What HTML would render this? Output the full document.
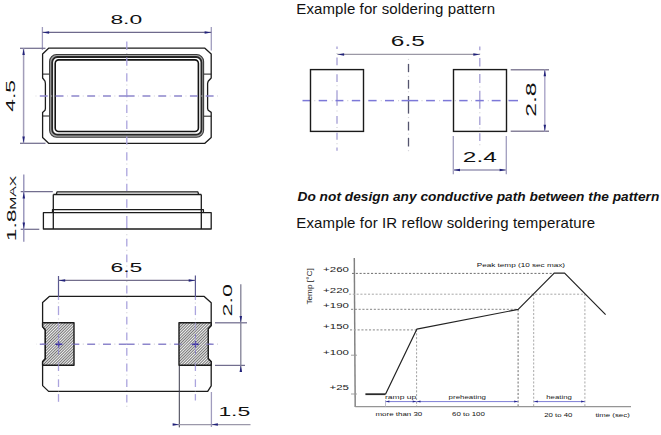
<!DOCTYPE html>
<html><head><meta charset="utf-8"><style>
html,body{margin:0;padding:0;background:#fff;}
body{width:661px;height:435px;overflow:hidden;}
svg{display:block;font-family:"Liberation Sans",sans-serif;}
</style></head><body>
<svg width="661" height="435" viewBox="0 0 661 435">
<polygon points="48.6,48.2 204.9,48.2 211.2,54.0 211.2,78.0 208.2,81.2 207.6,83.5 207.6,108.5 208.2,110.3 211.2,112.4 211.2,137.5 204.9,143.3 48.6,143.3 42.6,137.5 42.6,112.4 45.0,110.3 45.4,108.5 45.4,83.5 45.0,81.2 42.6,78.0 42.6,54.0" fill="none" stroke="#1c1c1c" stroke-width="1.3" stroke-linejoin="round"/>
<line x1="42.6" y1="74.1" x2="49.6" y2="74.1" stroke="#1c1c1c" stroke-width="1" />
<line x1="42.6" y1="116.0" x2="49.6" y2="116.0" stroke="#1c1c1c" stroke-width="1" />
<line x1="203.6" y1="74.1" x2="211.2" y2="74.1" stroke="#1c1c1c" stroke-width="1" />
<line x1="203.6" y1="116.2" x2="211.2" y2="116.2" stroke="#1c1c1c" stroke-width="1" />
<rect x="49.6" y="54.5" width="154" height="82.7" rx="7" fill="#a4a4a4" stroke="#3a3a3a" stroke-width="1.1"/>
<rect x="52.2" y="57.0" width="149.2" height="77.7" rx="5.2" fill="#fff" stroke="#262626" stroke-width="1.8"/>
<rect x="55.2" y="59.9" width="143.2" height="71.6" rx="3.5" fill="none" stroke="#141414" stroke-width="1.6"/>
<line x1="126.8" y1="41.6" x2="126.8" y2="191" stroke="#aba4de" stroke-width="1.3" stroke-dasharray="8.3 7.5" stroke-dashoffset="0"/>
<line x1="126.8" y1="41.6" x2="126.8" y2="191" stroke="#cfcfd6" stroke-width="1.2" stroke-dasharray="0 11.3 1 3.5" stroke-dashoffset="0"/>
<line x1="126.8" y1="191" x2="126.8" y2="229" stroke="#aba4de" stroke-width="1.3" stroke-dasharray="0 8.2 8.6 8.1 20" stroke-dashoffset="0"/>
<line x1="126.8" y1="234.2" x2="126.8" y2="404" stroke="#aba4de" stroke-width="1.3" stroke-dasharray="0 4.6 7.8 3.2" stroke-dashoffset="0"/>
<line x1="126.8" y1="234.2" x2="126.8" y2="407" stroke="#cfcfd6" stroke-width="1.2" stroke-dasharray="1 14.6" stroke-dashoffset="0"/>
<line x1="126.7" y1="96" x2="35.6" y2="96" stroke="#8d86cc" stroke-width="1.6" stroke-dasharray="7.9 7.9" stroke-dashoffset="0"/>
<line x1="126.7" y1="96" x2="35.6" y2="96" stroke="#cfcfd6" stroke-width="1.2" stroke-dasharray="0 11.350000000000001 1 3.45" stroke-dashoffset="0"/>
<line x1="126.7" y1="96" x2="219" y2="96" stroke="#8d86cc" stroke-width="1.6" stroke-dasharray="7.9 7.9" stroke-dashoffset="0"/>
<line x1="126.7" y1="96" x2="219" y2="96" stroke="#cfcfd6" stroke-width="1.2" stroke-dasharray="0 11.350000000000001 1 3.45" stroke-dashoffset="0"/>
<line x1="42.4" y1="27" x2="42.4" y2="50" stroke="#a09cbe" stroke-width="1.3" />
<line x1="211.3" y1="27" x2="211.3" y2="50.6" stroke="#a09cbe" stroke-width="1.3" />
<line x1="42.4" y1="32.4" x2="211.3" y2="32.4" stroke="#6e698c" stroke-width="1.2" />
<polygon points="42.6,32.4 49.1,31.15 49.1,33.65" fill="#22227a"/>
<polygon points="211.1,32.4 204.6,31.15 204.6,33.65" fill="#22227a"/>
<text transform="translate(110.4,23.8) scale(1.72,1)" font-size="13.3" fill="#111" text-anchor="start">8.0</text>
<line x1="20" y1="48.3" x2="45.5" y2="48.3" stroke="#726e8e" stroke-width="1.25" />
<line x1="20" y1="143.3" x2="45.5" y2="143.3" stroke="#726e8e" stroke-width="1.25" />
<line x1="23.6" y1="48.3" x2="23.6" y2="143.3" stroke="#a29db9" stroke-width="1.5" />
<polygon points="23.6,48.5 22.35,55.0 24.85,55.0" fill="#22227a"/>
<polygon points="23.6,143.1 22.35,136.6 24.85,136.6" fill="#22227a"/>
<text transform="translate(15.2,111.8) rotate(-90) scale(1.72,1)" font-size="13.3" fill="#111" text-anchor="start">4.5</text>
<polygon points="43.4,212.7 211.2,212.7 211.2,229.0 43.4,229.0" fill="none" stroke="#1c1c1c" stroke-width="1.3" stroke-linejoin="round"/>
<line x1="53.3" y1="194.5" x2="53.3" y2="229.0" stroke="#1c1c1c" stroke-width="1.3" />
<line x1="201.3" y1="194.5" x2="201.3" y2="229.0" stroke="#1c1c1c" stroke-width="1.3" />
<polyline points="52.5,212.7 52.5,209.7 203.4,209.7 203.4,212.7" fill="none" stroke="#1c1c1c" stroke-width="1.3" stroke-linejoin="round"/>
<polyline points="53.3,194.5 201.3,194.5" fill="none" stroke="#1c1c1c" stroke-width="1.3" stroke-linejoin="round"/>
<polyline points="56.3,194.5 57,191.8 197.9,191.8 198.6,194.5" fill="none" stroke="#1c1c1c" stroke-width="1.3" stroke-linejoin="round"/>
<line x1="20.7" y1="191.7" x2="52.8" y2="191.7" stroke="#726e8e" stroke-width="1.25" />
<line x1="20.7" y1="229.3" x2="39.3" y2="229.3" stroke="#726e8e" stroke-width="1.25" />
<line x1="23.8" y1="174.5" x2="23.8" y2="241.8" stroke="#8e8ab4" stroke-width="1.3" />
<polygon points="23.8,191.9 22.55,198.4 25.05,198.4" fill="#22227a"/>
<polygon points="23.8,229.1 22.55,222.6 25.05,222.6" fill="#22227a"/>
<text transform="translate(16.0,241.2) rotate(-90) scale(1.72,1)" font-size="13.3" fill="#111" text-anchor="start">1.8</text>
<text transform="translate(16.0,209.8) rotate(-90) scale(1.9,1)" font-size="8.3" fill="#111" text-anchor="start">MAX</text>
<polygon points="49.3,296.4 204.2,296.4 211.2,302.8 211.2,325.6 208.2,328.8 208.2,358.6 211.2,361.8 211.2,385.8 207.7,391.4 48.6,391.4 42.6,385.6 42.6,361.8 45.3,358.7 45.3,330 42.6,326.6 42.6,302.5" fill="none" stroke="#1c1c1c" stroke-width="1.3" stroke-linejoin="round"/>
<line x1="58.5" y1="276" x2="58.5" y2="297" stroke="#5a5890" stroke-width="1.2" />
<line x1="195.4" y1="275.5" x2="195.4" y2="297" stroke="#5a5890" stroke-width="1.2" />
<line x1="58.5" y1="297" x2="58.5" y2="300" stroke="#aba4de" stroke-width="1.3" />
<line x1="58.5" y1="306.1" x2="58.5" y2="315.1" stroke="#aba4de" stroke-width="1.3" />
<line x1="58.5" y1="322.5" x2="58.5" y2="330.5" stroke="#aba4de" stroke-width="1.3" />
<line x1="58.5" y1="337" x2="58.5" y2="351.5" stroke="#aba4de" stroke-width="1.3" />
<line x1="58.5" y1="362.4" x2="58.5" y2="371" stroke="#aba4de" stroke-width="1.3" />
<line x1="58.5" y1="379.3" x2="58.5" y2="387" stroke="#aba4de" stroke-width="1.3" />
<line x1="58.5" y1="394.1" x2="58.5" y2="401.8" stroke="#aba4de" stroke-width="1.3" />
<line x1="58.5" y1="302.4" x2="58.5" y2="303.4" stroke="#cfcfd6" stroke-width="1.2" />
<line x1="58.5" y1="318.5" x2="58.5" y2="319.5" stroke="#cfcfd6" stroke-width="1.2" />
<line x1="58.5" y1="333.5" x2="58.5" y2="334.5" stroke="#cfcfd6" stroke-width="1.2" />
<line x1="58.5" y1="354.5" x2="58.5" y2="355.5" stroke="#cfcfd6" stroke-width="1.2" />
<line x1="58.5" y1="374.9" x2="58.5" y2="375.9" stroke="#cfcfd6" stroke-width="1.2" />
<line x1="58.5" y1="390.3" x2="58.5" y2="391.3" stroke="#cfcfd6" stroke-width="1.2" />
<line x1="195.4" y1="297" x2="195.4" y2="300" stroke="#aba4de" stroke-width="1.3" />
<line x1="195.4" y1="306.1" x2="195.4" y2="315.1" stroke="#aba4de" stroke-width="1.3" />
<line x1="195.4" y1="322.5" x2="195.4" y2="330.5" stroke="#aba4de" stroke-width="1.3" />
<line x1="195.4" y1="337" x2="195.4" y2="351.5" stroke="#aba4de" stroke-width="1.3" />
<line x1="195.4" y1="362.4" x2="195.4" y2="371" stroke="#aba4de" stroke-width="1.3" />
<line x1="195.4" y1="379.3" x2="195.4" y2="387" stroke="#aba4de" stroke-width="1.3" />
<line x1="195.4" y1="394.1" x2="195.4" y2="400.5" stroke="#aba4de" stroke-width="1.3" />
<line x1="195.4" y1="302.4" x2="195.4" y2="303.4" stroke="#cfcfd6" stroke-width="1.2" />
<line x1="195.4" y1="318.5" x2="195.4" y2="319.5" stroke="#cfcfd6" stroke-width="1.2" />
<line x1="195.4" y1="333.5" x2="195.4" y2="334.5" stroke="#cfcfd6" stroke-width="1.2" />
<line x1="195.4" y1="354.5" x2="195.4" y2="355.5" stroke="#cfcfd6" stroke-width="1.2" />
<line x1="195.4" y1="374.9" x2="195.4" y2="375.9" stroke="#cfcfd6" stroke-width="1.2" />
<line x1="195.4" y1="390.3" x2="195.4" y2="391.3" stroke="#cfcfd6" stroke-width="1.2" />
<line x1="126.7" y1="344.2" x2="36" y2="344.2" stroke="#8d86cc" stroke-width="1.6" stroke-dasharray="7.9 7.9" stroke-dashoffset="0"/>
<line x1="126.7" y1="344.2" x2="36" y2="344.2" stroke="#cfcfd6" stroke-width="1.2" stroke-dasharray="0 11.350000000000001 1 3.45" stroke-dashoffset="0"/>
<line x1="126.7" y1="344.2" x2="219" y2="344.2" stroke="#8d86cc" stroke-width="1.6" stroke-dasharray="7.9 7.9" stroke-dashoffset="0"/>
<line x1="126.7" y1="344.2" x2="219" y2="344.2" stroke="#cfcfd6" stroke-width="1.2" stroke-dasharray="0 11.350000000000001 1 3.45" stroke-dashoffset="0"/>
<defs><pattern id="h" patternUnits="userSpaceOnUse" width="2.0" height="2.0" patternTransform="rotate(45)"><rect width="2.0" height="2.0" fill="#f2f2f2"/><line x1="0.5" y1="0" x2="0.5" y2="2.0" stroke="#555" stroke-width="0.8"/></pattern></defs>
<polygon points="42.6,322.7 74.0,322.7 74.0,365.3 42.6,365.3 42.6,361.8 45.3,358.7 45.3,330 42.6,326.6" fill="url(#h)" stroke="#1c1c1c" stroke-width="1.4" stroke-linejoin="round"/>
<polygon points="179.0,322.7 211.2,322.7 211.2,325.6 208.2,328.8 208.2,358.6 211.2,361.8 211.2,365.3 179.0,365.3" fill="url(#h)" stroke="#1c1c1c" stroke-width="1.4" stroke-linejoin="round"/>
<clipPath id="pc"><rect x="42" y="322" width="33" height="44"/><rect x="178.5" y="322" width="33" height="44"/></clipPath>
<g opacity="0.6" clip-path="url(#pc)">
<line x1="58.5" y1="297" x2="58.5" y2="300" stroke="#aba4de" stroke-width="1.3" />
<line x1="58.5" y1="306.1" x2="58.5" y2="315.1" stroke="#aba4de" stroke-width="1.3" />
<line x1="58.5" y1="322.5" x2="58.5" y2="330.5" stroke="#aba4de" stroke-width="1.3" />
<line x1="58.5" y1="337" x2="58.5" y2="351.5" stroke="#aba4de" stroke-width="1.3" />
<line x1="58.5" y1="362.4" x2="58.5" y2="371" stroke="#aba4de" stroke-width="1.3" />
<line x1="58.5" y1="379.3" x2="58.5" y2="387" stroke="#aba4de" stroke-width="1.3" />
<line x1="58.5" y1="394.1" x2="58.5" y2="401.8" stroke="#aba4de" stroke-width="1.3" />
<line x1="195.4" y1="297" x2="195.4" y2="300" stroke="#aba4de" stroke-width="1.3" />
<line x1="195.4" y1="306.1" x2="195.4" y2="315.1" stroke="#aba4de" stroke-width="1.3" />
<line x1="195.4" y1="322.5" x2="195.4" y2="330.5" stroke="#aba4de" stroke-width="1.3" />
<line x1="195.4" y1="337" x2="195.4" y2="351.5" stroke="#aba4de" stroke-width="1.3" />
<line x1="195.4" y1="362.4" x2="195.4" y2="371" stroke="#aba4de" stroke-width="1.3" />
<line x1="195.4" y1="379.3" x2="195.4" y2="387" stroke="#aba4de" stroke-width="1.3" />
<line x1="195.4" y1="394.1" x2="195.4" y2="401.8" stroke="#aba4de" stroke-width="1.3" />
<line x1="126.7" y1="344.2" x2="36" y2="344.2" stroke="#8d86cc" stroke-width="1.6" stroke-dasharray="7.9 7.9" stroke-dashoffset="0"/>
<line x1="126.7" y1="344.2" x2="36" y2="344.2" stroke="#cfcfd6" stroke-width="1.2" stroke-dasharray="0 11.350000000000001 1 3.45" stroke-dashoffset="0"/>
<line x1="126.7" y1="344.2" x2="219" y2="344.2" stroke="#8d86cc" stroke-width="1.6" stroke-dasharray="7.9 7.9" stroke-dashoffset="0"/>
<line x1="126.7" y1="344.2" x2="219" y2="344.2" stroke="#cfcfd6" stroke-width="1.2" stroke-dasharray="0 11.350000000000001 1 3.45" stroke-dashoffset="0"/>
</g>
<line x1="55.4" y1="344.3" x2="61.800000000000004" y2="344.3" stroke="#3a30a0" stroke-width="1.5" />
<line x1="58.6" y1="341" x2="58.6" y2="347.6" stroke="#5a50b0" stroke-width="1.3" />
<line x1="58.6" y1="334" x2="58.6" y2="338" stroke="#8a84c0" stroke-width="1.0" />
<line x1="58.6" y1="350.5" x2="58.6" y2="354.5" stroke="#8a84c0" stroke-width="1.0" />
<line x1="192.3" y1="344.3" x2="198.7" y2="344.3" stroke="#3a30a0" stroke-width="1.5" />
<line x1="195.5" y1="341" x2="195.5" y2="347.6" stroke="#5a50b0" stroke-width="1.3" />
<line x1="195.5" y1="334" x2="195.5" y2="338" stroke="#8a84c0" stroke-width="1.0" />
<line x1="195.5" y1="350.5" x2="195.5" y2="354.5" stroke="#8a84c0" stroke-width="1.0" />
<line x1="58.5" y1="280.4" x2="195.4" y2="280.4" stroke="#736e8c" stroke-width="1.2" />
<polygon points="58.7,280.4 65.2,279.15 65.2,281.65" fill="#22227a"/>
<polygon points="195.2,280.4 188.7,279.15 188.7,281.65" fill="#22227a"/>
<text transform="translate(110.5,271.9) scale(1.72,1)" font-size="13.3" fill="#111" text-anchor="start">6.5</text>
<line x1="215" y1="322.8" x2="247" y2="322.8" stroke="#726e8e" stroke-width="1.25" />
<line x1="215" y1="365.4" x2="245" y2="365.4" stroke="#726e8e" stroke-width="1.25" />
<line x1="240.8" y1="284.3" x2="240.8" y2="371.8" stroke="#828096" stroke-width="1.3" />
<polygon points="240.8,322.6 239.55,316.1 242.05,316.1" fill="#22227a"/>
<polygon points="240.8,365.6 239.55,372.1 242.05,372.1" fill="#22227a"/>
<text transform="translate(231.6,316.4) rotate(-90) scale(1.75,1)" font-size="13.3" fill="#111" text-anchor="start">2.0</text>
<line x1="179.3" y1="366" x2="179.3" y2="427.4" stroke="#3a3a4a" stroke-width="1" />
<line x1="211.4" y1="392" x2="211.4" y2="427" stroke="#a09cbe" stroke-width="1.3" />
<line x1="173.3" y1="424.5" x2="250.5" y2="424.5" stroke="#9b98aa" stroke-width="1.25" />
<polygon points="179.1,424.5 172.6,423.25 172.6,425.75" fill="#22227a"/>
<polygon points="211.4,424.5 217.9,423.25 217.9,425.75" fill="#22227a"/>
<text transform="translate(218.4,415.8) scale(1.72,1)" font-size="13.3" fill="#111" text-anchor="start">1.5</text>
<line x1="337.0" y1="46.6" x2="337.0" y2="49.1" stroke="#a49ed4" stroke-width="1.3" />
<line x1="337.0" y1="57.5" x2="337.0" y2="65.2" stroke="#a49ed4" stroke-width="1.3" />
<line x1="337.0" y1="74.2" x2="337.0" y2="82" stroke="#a49ed4" stroke-width="1.3" />
<line x1="337.0" y1="90.3" x2="337.0" y2="105.7" stroke="#a49ed4" stroke-width="1.3" />
<line x1="337.0" y1="116" x2="337.0" y2="123.7" stroke="#a49ed4" stroke-width="1.3" />
<line x1="337.0" y1="132.7" x2="337.0" y2="139.8" stroke="#a49ed4" stroke-width="1.3" />
<line x1="337.0" y1="147.5" x2="337.0" y2="150.8" stroke="#a49ed4" stroke-width="1.3" />
<line x1="337.0" y1="53.0" x2="337.0" y2="54.0" stroke="#cfcfd6" stroke-width="1.2" />
<line x1="337.0" y1="69.2" x2="337.0" y2="70.2" stroke="#cfcfd6" stroke-width="1.2" />
<line x1="337.0" y1="85.3" x2="337.0" y2="86.3" stroke="#cfcfd6" stroke-width="1.2" />
<line x1="337.0" y1="110.4" x2="337.0" y2="111.4" stroke="#cfcfd6" stroke-width="1.2" />
<line x1="337.0" y1="127.1" x2="337.0" y2="128.1" stroke="#cfcfd6" stroke-width="1.2" />
<line x1="337.0" y1="143.2" x2="337.0" y2="144.2" stroke="#cfcfd6" stroke-width="1.2" />
<line x1="479.8" y1="46.4" x2="479.8" y2="50.3" stroke="#a49ed4" stroke-width="1.3" />
<line x1="479.8" y1="58" x2="479.8" y2="66.4" stroke="#a49ed4" stroke-width="1.3" />
<line x1="479.8" y1="74.1" x2="479.8" y2="83.1" stroke="#a49ed4" stroke-width="1.3" />
<line x1="479.8" y1="90.8" x2="479.8" y2="108.8" stroke="#a49ed4" stroke-width="1.3" />
<line x1="479.8" y1="116.5" x2="479.8" y2="124.9" stroke="#a49ed4" stroke-width="1.3" />
<line x1="479.8" y1="133.3" x2="479.8" y2="141" stroke="#a49ed4" stroke-width="1.3" />
<line x1="479.8" y1="53.5" x2="479.8" y2="54.5" stroke="#cfcfd6" stroke-width="1.2" />
<line x1="479.8" y1="69.5" x2="479.8" y2="70.5" stroke="#cfcfd6" stroke-width="1.2" />
<line x1="479.8" y1="86.5" x2="479.8" y2="87.5" stroke="#cfcfd6" stroke-width="1.2" />
<line x1="479.8" y1="112.2" x2="479.8" y2="113.2" stroke="#cfcfd6" stroke-width="1.2" />
<line x1="479.8" y1="127.6" x2="479.8" y2="128.6" stroke="#cfcfd6" stroke-width="1.2" />
<line x1="479.8" y1="144.3" x2="479.8" y2="145.3" stroke="#cfcfd6" stroke-width="1.2" />
<line x1="408.5" y1="63.9" x2="408.5" y2="72.2" stroke="#54546e" stroke-width="1.3" />
<line x1="408.5" y1="79.9" x2="408.5" y2="88.7" stroke="#54546e" stroke-width="1.3" />
<line x1="408.5" y1="96" x2="408.5" y2="113.6" stroke="#54546e" stroke-width="1.3" />
<line x1="408.5" y1="121.7" x2="408.5" y2="130.5" stroke="#54546e" stroke-width="1.3" />
<line x1="408.5" y1="137.8" x2="408.5" y2="146.5" stroke="#54546e" stroke-width="1.3" />
<line x1="408.5" y1="58.9" x2="408.5" y2="59.9" stroke="#cfcfd6" stroke-width="1.2" />
<line x1="408.5" y1="75.8" x2="408.5" y2="76.8" stroke="#cfcfd6" stroke-width="1.2" />
<line x1="408.5" y1="91.3" x2="408.5" y2="92.3" stroke="#cfcfd6" stroke-width="1.2" />
<line x1="408.5" y1="117.1" x2="408.5" y2="118.1" stroke="#cfcfd6" stroke-width="1.2" />
<line x1="408.5" y1="133.6" x2="408.5" y2="134.6" stroke="#cfcfd6" stroke-width="1.2" />
<line x1="408.5" y1="150.2" x2="408.5" y2="151.2" stroke="#cfcfd6" stroke-width="1.2" />
<line x1="302.5" y1="100.6" x2="310.3" y2="100.6" stroke="#7c78d8" stroke-width="1.5" />
<line x1="318.7" y1="100.6" x2="327.1" y2="100.6" stroke="#7c78d8" stroke-width="1.5" />
<line x1="335.5" y1="100.6" x2="343.4" y2="100.6" stroke="#7c78d8" stroke-width="1.5" />
<line x1="351.8" y1="100.6" x2="360.2" y2="100.6" stroke="#7c78d8" stroke-width="1.5" />
<line x1="368.3" y1="100.6" x2="376.6" y2="100.6" stroke="#7c78d8" stroke-width="1.5" />
<line x1="385" y1="100.6" x2="394" y2="100.6" stroke="#7c78d8" stroke-width="1.5" />
<line x1="401.6" y1="100.6" x2="418.2" y2="100.6" stroke="#7c78d8" stroke-width="1.5" />
<line x1="426.1" y1="100.6" x2="434.9" y2="100.6" stroke="#7c78d8" stroke-width="1.5" />
<line x1="442.9" y1="100.6" x2="451.5" y2="100.6" stroke="#7c78d8" stroke-width="1.5" />
<line x1="459.2" y1="100.6" x2="467.6" y2="100.6" stroke="#7c78d8" stroke-width="1.5" />
<line x1="475.4" y1="100.6" x2="483.8" y2="100.6" stroke="#7c78d8" stroke-width="1.5" />
<line x1="491.7" y1="100.6" x2="500.6" y2="100.6" stroke="#7c78d8" stroke-width="1.5" />
<line x1="508.5" y1="100.6" x2="518" y2="100.6" stroke="#7c78d8" stroke-width="1.5" />
<line x1="314.3" y1="100.6" x2="315.3" y2="100.6" stroke="#cfcfd6" stroke-width="1.2" />
<line x1="331.7" y1="100.6" x2="332.7" y2="100.6" stroke="#cfcfd6" stroke-width="1.2" />
<line x1="347.3" y1="100.6" x2="348.3" y2="100.6" stroke="#cfcfd6" stroke-width="1.2" />
<line x1="380.7" y1="100.6" x2="381.7" y2="100.6" stroke="#cfcfd6" stroke-width="1.2" />
<line x1="398.1" y1="100.6" x2="399.1" y2="100.6" stroke="#cfcfd6" stroke-width="1.2" />
<line x1="421.5" y1="100.6" x2="422.5" y2="100.6" stroke="#cfcfd6" stroke-width="1.2" />
<line x1="439.1" y1="100.6" x2="440.1" y2="100.6" stroke="#cfcfd6" stroke-width="1.2" />
<line x1="454.8" y1="100.6" x2="455.8" y2="100.6" stroke="#cfcfd6" stroke-width="1.2" />
<line x1="471.0" y1="100.6" x2="472.0" y2="100.6" stroke="#cfcfd6" stroke-width="1.2" />
<line x1="487.8" y1="100.6" x2="488.8" y2="100.6" stroke="#cfcfd6" stroke-width="1.2" />
<rect x="310.5" y="69.6" width="53" height="61.8" fill="none" stroke="#1a1a1a" stroke-width="1.4"/>
<rect x="453.5" y="69.6" width="53" height="61.8" fill="none" stroke="#1a1a1a" stroke-width="1.4"/>
<line x1="337.4" y1="54.4" x2="480" y2="54.4" stroke="#9b98a5" stroke-width="1.25" />
<polygon points="337.6,54.4 344.1,53.15 344.1,55.65" fill="#22227a"/>
<polygon points="479.8,54.4 473.3,53.15 473.3,55.65" fill="#22227a"/>
<text transform="translate(390.8,46.0) scale(1.72,1)" font-size="14.2" fill="#111" text-anchor="start">6.5</text>
<line x1="510.7" y1="69.7" x2="549" y2="69.7" stroke="#87829a" stroke-width="1.5" />
<line x1="510.7" y1="131.3" x2="549" y2="131.3" stroke="#87829a" stroke-width="1.5" />
<line x1="544.8" y1="69.6" x2="544.8" y2="131.4" stroke="#aaa5c8" stroke-width="1.4" />
<polygon points="544.8,69.8 543.55,76.3 546.05,76.3" fill="#22227a"/>
<polygon points="544.8,131.2 543.55,124.69999999999999 546.05,124.69999999999999" fill="#22227a"/>
<text transform="translate(536.4,116.8) rotate(-90) scale(1.72,1)" font-size="14.4" fill="#111" text-anchor="start">2.8</text>
<line x1="453.3" y1="136" x2="453.3" y2="174.2" stroke="#a09cbe" stroke-width="1.3" />
<line x1="506.3" y1="136" x2="506.3" y2="174.2" stroke="#a09cbe" stroke-width="1.3" />
<line x1="453.3" y1="170" x2="506.3" y2="170" stroke="#b4b2c8" stroke-width="1.8" />
<polygon points="453.5,170 460.0,168.75 460.0,171.25" fill="#22227a"/>
<polygon points="506.1,170 499.6,168.75 499.6,171.25" fill="#22227a"/>
<text transform="translate(462.8,161.9) scale(1.72,1)" font-size="14.2" fill="#111" text-anchor="start">2.4</text>
<text x="296.3" y="13.5" font-size="15" letter-spacing="0.1" fill="#111">Example for soldering pattern</text>
<text x="297.5" y="200.8" font-size="13.7" font-weight="bold" font-style="italic" letter-spacing="0.025" fill="#111">Do not design any conductive path between the pattern</text>
<text x="296.3" y="227.6" font-size="15" letter-spacing="0.13" fill="#111">Example for IR reflow soldering temperature</text>
<line x1="354.3" y1="258" x2="355.2" y2="406.9" stroke="#808080" stroke-width="1.45" />
<line x1="355.2" y1="406.6" x2="631" y2="406.6" stroke="#959595" stroke-width="1.2" />
<line x1="352" y1="273.4" x2="554" y2="273.4" stroke="#6e6e6e" stroke-width="1" stroke-dasharray="2.1 1.7"/>
<line x1="349" y1="294.2" x2="585" y2="294.2" stroke="#a8a8a8" stroke-width="1" stroke-dasharray="2.1 1.7"/>
<line x1="351" y1="309.3" x2="518" y2="309.3" stroke="#858585" stroke-width="1" stroke-dasharray="2.1 1.7"/>
<line x1="350" y1="329.9" x2="417" y2="329.9" stroke="#a0a0a0" stroke-width="1.1" stroke-dasharray="2.1 1.7"/>
<line x1="416.6" y1="329.5" x2="416.6" y2="406" stroke="#a0a0a0" stroke-width="1" stroke-dasharray="2.1 1.7"/>
<line x1="518.1" y1="309.3" x2="518.1" y2="406" stroke="#707070" stroke-width="1" stroke-dasharray="2.1 1.7"/>
<line x1="533.7" y1="294" x2="533.7" y2="406" stroke="#a8a8a8" stroke-width="1" stroke-dasharray="2.1 1.7"/>
<line x1="584.9" y1="294" x2="584.9" y2="406" stroke="#a8a8a8" stroke-width="1" stroke-dasharray="2.1 1.7"/>
<line x1="351" y1="355.2" x2="357" y2="355.2" stroke="#999" stroke-width="0.9" />
<line x1="351" y1="394.0" x2="357" y2="394.0" stroke="#999" stroke-width="0.9" />
<line x1="385.5" y1="400" x2="385.5" y2="406.6" stroke="#b8b8c8" stroke-width="0.9" />
<polyline points="365.4,394.2 385.5,394.2" fill="none" stroke="#2a2a2a" stroke-width="1.8" stroke-linejoin="round"/>
<polyline points="385.5,394.2 416.8,329.2 518.2,309.4 554.2,273.2 564.6,273.2 605.6,314.6" fill="none" stroke="#222" stroke-width="1.2" stroke-linejoin="round"/>
<line x1="385.5" y1="401.6" x2="416.6" y2="401.6" stroke="#7c7cd6" stroke-width="1" />
<polygon points="385.8,401.6 389.40000000000003,400.6 389.40000000000003,402.6" fill="#25258e"/>
<polygon points="416.3,401.6 412.7,400.6 412.7,402.6" fill="#25258e"/>
<line x1="416.6" y1="401.6" x2="518.1" y2="401.6" stroke="#7c7cd6" stroke-width="1" />
<polygon points="416.90000000000003,401.6 420.50000000000006,400.6 420.50000000000006,402.6" fill="#25258e"/>
<polygon points="517.8000000000001,401.6 514.2,400.6 514.2,402.6" fill="#25258e"/>
<line x1="533.9" y1="401.6" x2="585" y2="401.6" stroke="#7c7cd6" stroke-width="1" />
<polygon points="534.1999999999999,401.6 537.8,400.6 537.8,402.6" fill="#25258e"/>
<polygon points="584.7,401.6 581.1,400.6 581.1,402.6" fill="#25258e"/>
<text transform="translate(348.9,272.3) scale(1.64,1)" font-size="7" fill="#222" text-anchor="end">+260</text>
<text transform="translate(348.9,292.6) scale(1.64,1)" font-size="7" fill="#222" text-anchor="end">+220</text>
<text transform="translate(348.9,308.1) scale(1.64,1)" font-size="7" fill="#222" text-anchor="end">+190</text>
<text transform="translate(348.9,328.7) scale(1.64,1)" font-size="7" fill="#222" text-anchor="end">+150</text>
<text transform="translate(348.9,354.5) scale(1.64,1)" font-size="7" fill="#222" text-anchor="end">+100</text>
<text transform="translate(348.9,389.9) scale(1.64,1)" font-size="7" fill="#222" text-anchor="end">+25</text>
<text transform="translate(311.9,304.6) rotate(-90) scale(1.25,1)" font-size="6.6" fill="#222" text-anchor="start">Temp [°C]</text>
<text transform="translate(476.7,266.9) scale(1.54,1)" font-size="5.3" fill="#111" text-anchor="start">Peak temp (10 sec max)</text>
<text transform="translate(385.0,399.1) scale(1.42,1)" font-size="6.0" fill="#222" text-anchor="start">ramp up</text>
<text transform="translate(448.6,399.1) scale(1.32,1)" font-size="6.0" fill="#222" text-anchor="start">preheating</text>
<text transform="translate(546.3,399.3) scale(1.3,1)" font-size="6.0" fill="#222" text-anchor="start">heating</text>
<text transform="translate(375.5,416.3) scale(1.42,1)" font-size="5.6" fill="#111" text-anchor="start">more than 30</text>
<text transform="translate(452.0,416.4) scale(1.41,1)" font-size="5.6" fill="#111" text-anchor="start">60 to 100</text>
<text transform="translate(544.2,416.7) scale(1.39,1)" font-size="5.6" fill="#111" text-anchor="start">20 to 40</text>
<text transform="translate(595.4,416.7) scale(1.4,1)" font-size="5.6" fill="#111" text-anchor="start">time (sec)</text>
</svg>
</body></html>
